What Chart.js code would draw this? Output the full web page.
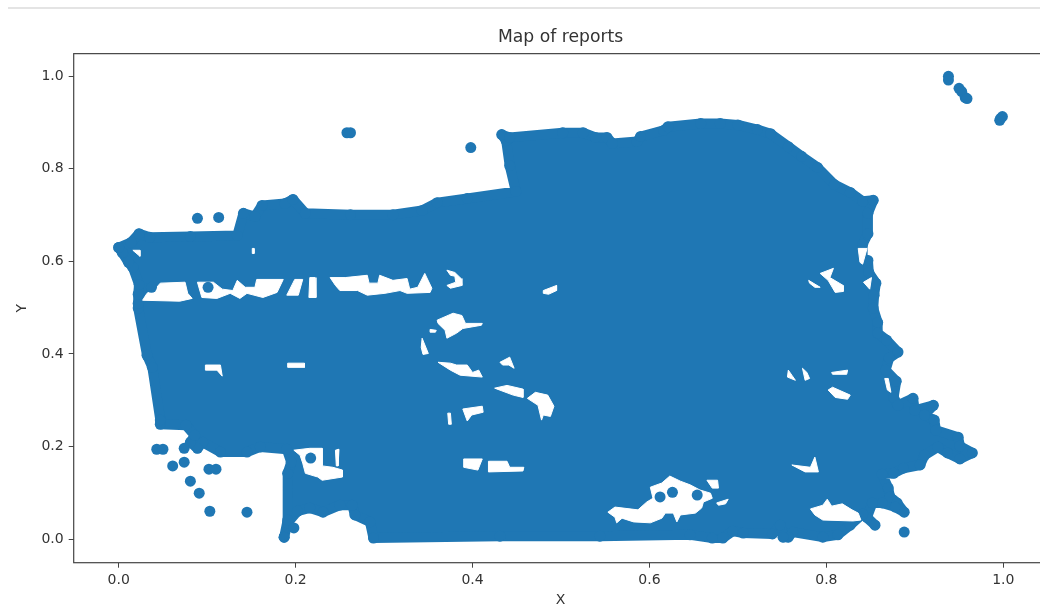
<!DOCTYPE html>
<html>
<head>
<meta charset="utf-8">
<title>Map of reports</title>
<script src="https://cdn.jsdelivr.net/npm/chart.js@4"></script>
<style>
   html, body { margin: 0; padding: 0; background: #fff; overflow: hidden; width: 1040px; height: 609px; }
   #topRule { position: absolute; left: 8px; right: 0; top: 7px; height: 2px; background: #e4e4e4; }
   #mapa { display: block; filter: blur(0.7px); }
</style>
</head>
<body>
<div id="topRule"></div>
<canvas id="mapa" width="1053" height="609"></canvas>
<script>
// Dados
const xTickValues = [0.0, 0.2, 0.4, 0.6, 0.8, 1.0];
const yTickValues = [0.0, 0.2, 0.4, 0.6, 0.8, 1.0];
const xLimits = [-0.0509, 1.05];
const yLimits = [-0.0512, 1.049];

// Contorno da massa de pontos (centros dos pontos da borda)
const blobEdge = [
   [0,.630],[.014,.641],[.023,.660],[.035,.652],[.081,.654],[.134,.656],[.141,.704],[.154,.697],[.162,.721],[.188,.725],
   [.197,.734],[.211,.704],[.262,.701],[.310,.701],[.343,.710],[.360,.727],[.394,.736],[.449,.751],[.442,.807],[.438,.861],
   [.433,.874],[.442,.868],[.502,.878],[.525,.878],[.539,.868],[.552,.868],[.558,.855],[.586,.859],[.590,.870],[.616,.883],
   [.621,.891],[.658,.898],[.680,.898],[.700,.895],[.722,.885],[.737,.876],[.757,.848],[.772,.827],[.790,.803],[.809,.766],[.827,.749],
   [.841,.730],[.853,.732],[.847,.704],[.847,.660],[.841,.637],[.841,.607],[.847,.602],[.848,.576],[.856,.553],[.854,.527],
   [.853,.499],[.858,.468],[.858,.445],[.868,.430],[.881,.404],[.871,.391],[.867,.365],[.879,.341],[.876,.306],[.881,.289],
   [.898,.304],[.900,.278],[.921,.289],[.911,.268],[.922,.257],[.924,.235],[.949,.220],[.951,.201],[.965,.186],[.951,.173],
   [.937,.186],[.926,.199],[.911,.181],[.906,.160],[.887,.153],[.876,.142],[.863,.140],[.870,.110],[.872,.091],[.880,.078],
   [.888,.058],[.878,.069],[.863,.078],[.852,.078],[.846,.047],[.855,.030],[.841,.054],[.827,.030],[.813,.009],[.796,.004],
   [.762,.015],[.757,.004],[.751,.004],[.748,.030],[.739,.011],[.706,.013],[.694,.017],[.683,.002],[.671,.002],[.646,.009],
   [.544,.006],[.431,.006],[.288,.002],[.284,.037],[.267,.052],[.264,.073],[.250,.073],[.231,.058],[.216,.067],[.202,.060],
   [.191,.035],[.187,.004],[.191,.041],[.191,.142],[.195,.166],[.190,.194],[.160,.199],[.145,.188],[.115,.188],[.095,.209],
   [.089,.196],[.081,.209],[.086,.224],[.076,.246],[.047,.248],[.047,.257],[.038,.371],[.032,.397],[.022,.499],[.022,.509],
   [.022,.529],[.023,.550],[.016,.587],[.011,.598],[.004,.619],[0,.630]
];

// Pontos isolados
const loneReports = [
   [.938,1.0],[.938,.992],[.950,.974],[.953,.967],[.957,.954],[.959,.952],[.996,.905],[.997,.909],[.999,.913],
   [.258,.878],[.262,.878],[.398,.846],[.089,.693],[.113,.695],[.037,.544],[.101,.544],[.043,.194],[.050,.194],
   [.074,.196],[.074,.166],[.061,.158],[.081,.125],[.091,.099],[.103,.060],[.145,.058],[.102,.151],[.110,.151],
   [.198,.024],[.187,.004],[.217,.175],[.626,.101],[.654,.095],[.612,.091],[.888,.015]
];

// Buracos brancos dentro da massa
const gapStripA = [[.032,.531],[.043,.544],[.047,.553],[.075,.555],[.078,.531],[.083,.520],[.069,.514],[.027,.516]];
const gapStripB = [[.089,.555],[.107,.555],[.117,.540],[.129,.537],[.134,.559],[.143,.544],[.154,.544],[.156,.561],[.186,.561],[.179,.533],[.163,.522],[.145,.531],[.137,.520],[.126,.531],[.111,.520],[.094,.522]];
const gapStripC = [[.199,.561],[.208,.561],[.203,.527],[.190,.527]];
const gapStripD = [[.216,.565],[.222,.565],[.223,.522],[.215,.522]];
const gapStripE = [[.239,.565],[.256,.565],[.281,.570],[.283,.553],[.293,.553],[.295,.570],[.310,.559],[.326,.563],[.329,.540],[.338,.544],[.346,.574],[.354,.542],[.352,.533],[.326,.531],[.318,.537],[.301,.531],[.281,.527],[.270,.537],[.250,.537],[.245,.548]];
const gapHook = [[.371,.581],[.380,.576],[.387,.563],[.388,.548],[.375,.542],[.371,.548],[.381,.555],[.380,.568],[.375,.570]];
const gapSmallA = [[.480,.537],[.495,.548],[.495,.537],[.486,.529],[.480,.531]];
const gapSmallB = [[.016,.624],[.024,.624],[.024,.611]];
const gapSmallC = [[.151,.628],[.153,.628],[.153,.617],[.151,.617]];
const gapNorthA = [[.793,.574],[.808,.585],[.804,.565],[.819,.548],[.819,.535],[.810,.533],[.802,.559]];
const gapNorthB = [[.780,.559],[.793,.544],[.787,.544],[.781,.553]];
const gapNorthC = [[.842,.555],[.851,.565],[.849,.540]];
const gapNorthD = [[.836,.628],[.846,.628],[.841,.594],[.838,.598]];
const gapMidA = [[.360,.473],[.378,.488],[.388,.483],[.392,.466],[.411,.466],[.410,.462],[.389,.455],[.382,.445],[.371,.434],[.369,.451],[.361,.466]];
const gapMidB = [[.352,.453],[.359,.451],[.358,.447],[.352,.447]];
const gapMidC = [[.343,.434],[.350,.401],[.344,.399],[.342,.414]];
const gapMidD = [[.361,.382],[.375,.380],[.382,.376],[.394,.376],[.400,.360],[.407,.365],[.411,.350],[.386,.354],[.375,.365]];
const gapMidE = [[.431,.382],[.442,.393],[.447,.369],[.441,.376],[.434,.376]];
const gapMidF = [[.425,.326],[.439,.332],[.457,.324],[.457,.306],[.446,.311]];
const gapMidG = [[.462,.304],[.471,.317],[.485,.311],[.492,.287],[.488,.265],[.480,.268],[.478,.257],[.474,.289]];
const gapMidH = [[.389,.281],[.411,.287],[.412,.274],[.399,.268],[.394,.255]];
const gapMidI = [[.390,.173],[.411,.173],[.406,.149],[.390,.155]];
const gapMidJ = [[.418,.168],[.439,.168],[.442,.155],[.458,.155],[.457,.147],[.418,.145]];
const gapMidK = [[.372,.272],[.375,.272],[.376,.248],[.373,.248]];
const gapWestA = [[.098,.376],[.115,.376],[.117,.352],[.111,.365],[.098,.365]];
const gapWestB = [[.191,.380],[.210,.380],[.210,.371],[.191,.371]];
const gapWestC = [[.198,.192],[.216,.196],[.230,.196],[.230,.158],[.242,.155],[.253,.149],[.253,.134],[.230,.127],[.225,.134],[.211,.142],[.208,.164],[.205,.181]];
const gapWestD = [[.245,.192],[.249,.194],[.248,.158],[.246,.158]];
const gapEastA = [[.757,.365],[.761,.354],[.765,.343],[.756,.350]];
const gapEastB = [[.773,.369],[.778,.360],[.781,.347],[.776,.343]];
const gapEastC = [[.806,.360],[.824,.365],[.823,.356],[.807,.356]];
const gapEastD = [[.802,.322],[.807,.328],[.827,.311],[.824,.302],[.810,.306]];
const gapEastE = [[.761,.160],[.782,.155],[.787,.177],[.791,.145],[.776,.145]];
const gapEastF = [[.866,.347],[.870,.347],[.873,.317],[.869,.322]];
const gapBayA = [[.553,.058],[.561,.069],[.587,.063],[.597,.080],[.604,.088],[.601,.112],[.614,.121],[.623,.136],[.635,.125],[.646,.117],[.657,.106],[.669,.099],[.671,.088],[.661,.080],[.659,.067],[.652,.056],[.635,.052],[.631,.037],[.627,.056],[.618,.056],[.614,.045],[.601,.035],[.582,.037],[.569,.045],[.563,.035],[.561,.047]];
const gapBayB = [[.665,.127],[.677,.127],[.678,.110],[.671,.110]];
const gapBayC = [[.676,.078],[.689,.086],[.686,.076],[.678,.073]];
const gapBayD = [[.782,.065],[.796,.073],[.801,.086],[.806,.071],[.818,.076],[.829,.063],[.836,.056],[.839,.041],[.830,.039],[.796,.041],[.787,.052]];

const allGaps = [
   gapStripA, gapStripB, gapStripC, gapStripD, gapStripE, gapHook, gapSmallA, gapSmallB, gapSmallC,
   gapNorthA, gapNorthB, gapNorthC, gapNorthD,
   gapMidA, gapMidB, gapMidC, gapMidD, gapMidE, gapMidF, gapMidG, gapMidH, gapMidI, gapMidJ, gapMidK,
   gapWestA, gapWestB, gapWestC, gapWestD,
   gapEastA, gapEastB, gapEastC, gapEastD, gapEastE, gapEastF,
   gapBayA, gapBayB, gapBayC, gapBayD
];

const color = "#1f77b4";
const textColor = "#333333";

const toPoints = (list) => list.map(p => ({ x: p[0], y: p[1] }));

const datasets = [
   {
      label: 'reports',
      data: toPoints(blobEdge),
      showLine: true,
      fill: 'shape',
      backgroundColor: color,
      borderColor: color,
      borderWidth: 10,
      borderJoinStyle: 'round',
      pointRadius: 5.5,
      pointBackgroundColor: color,
      pointBorderWidth: 0,
      order: 3
   }
];

allGaps.forEach((gap, i) => {
   datasets.push({
      label: 'gap' + i,
      data: toPoints(gap.concat([gap[0]])),
      showLine: true,
      fill: 'shape',
      backgroundColor: "#ffffff",
      borderColor: "#ffffff",
      borderWidth: 1,
      pointRadius: 0,
      order: 2
   });
});

datasets.push({
   label: 'reports',
   data: toPoints(loneReports),
   backgroundColor: color,
   borderWidth: 0,
   pointRadius: 5.5,
   order: 1
});

// Moldura dos quatro lados
const frame = {
   id: 'frame',
   afterDraw(chart) {
      const a = chart.chartArea;
      const ctx = chart.ctx;
      ctx.save();
      ctx.strokeStyle = "#444444";
      ctx.lineWidth = 1.2;
      ctx.strokeRect(a.left, a.top, a.right - a.left, a.bottom - a.top);
      ctx.restore();
   }
};

const tickFont = { family: "'DejaVu Sans'", size: 14 };

const grafico = document.getElementById('mapa').getContext('2d');
const chart = new Chart(grafico, {
   type: 'scatter',
   data: { datasets },
   plugins: [frame],
   options: {
      responsive: false,
      animation: false,
      devicePixelRatio: 1,
      layout: { padding: 0 },
      plugins: {
         legend: { display: false },
         tooltip: { enabled: false },
         title: {
            display: true,
            text: 'Map of reports',
            fullSize: false,
            color: textColor,
            font: { family: "'DejaVu Sans'", size: 17.2, weight: 'normal' },
            padding: { top: 27, bottom: 6 }
         }
      },
      scales: {
         x: {
            type: 'linear',
            min: xLimits[0],
            max: xLimits[1],
            afterBuildTicks: (axis) => { axis.ticks = xTickValues.map(v => ({ value: v })); },
            afterFit: (axis) => { axis.height = 46.3; },
            ticks: { color: textColor, font: tickFont, padding: 4, maxRotation: 0, callback: v => v.toFixed(1) },
            grid: { drawOnChartArea: false, tickLength: 5, color: "#444444" },
            border: { display: false },
            title: { display: true, text: 'X', color: textColor, font: tickFont, padding: { top: 2, bottom: 0 } }
         },
         y: {
            type: 'linear',
            min: yLimits[0],
            max: yLimits[1],
            afterBuildTicks: (axis) => { axis.ticks = yTickValues.map(v => ({ value: v })); },
            afterFit: (axis) => { axis.width = 73.7; },
            ticks: { color: textColor, font: tickFont, padding: 5, callback: v => v.toFixed(1) },
            grid: { drawOnChartArea: false, tickLength: 5, color: "#444444" },
            border: { display: false },
            title: { display: true, text: 'Y', color: textColor, font: tickFont, padding: { top: 14, bottom: 2 } }
         }
      }
   }
});
</script>
</body>
</html>
